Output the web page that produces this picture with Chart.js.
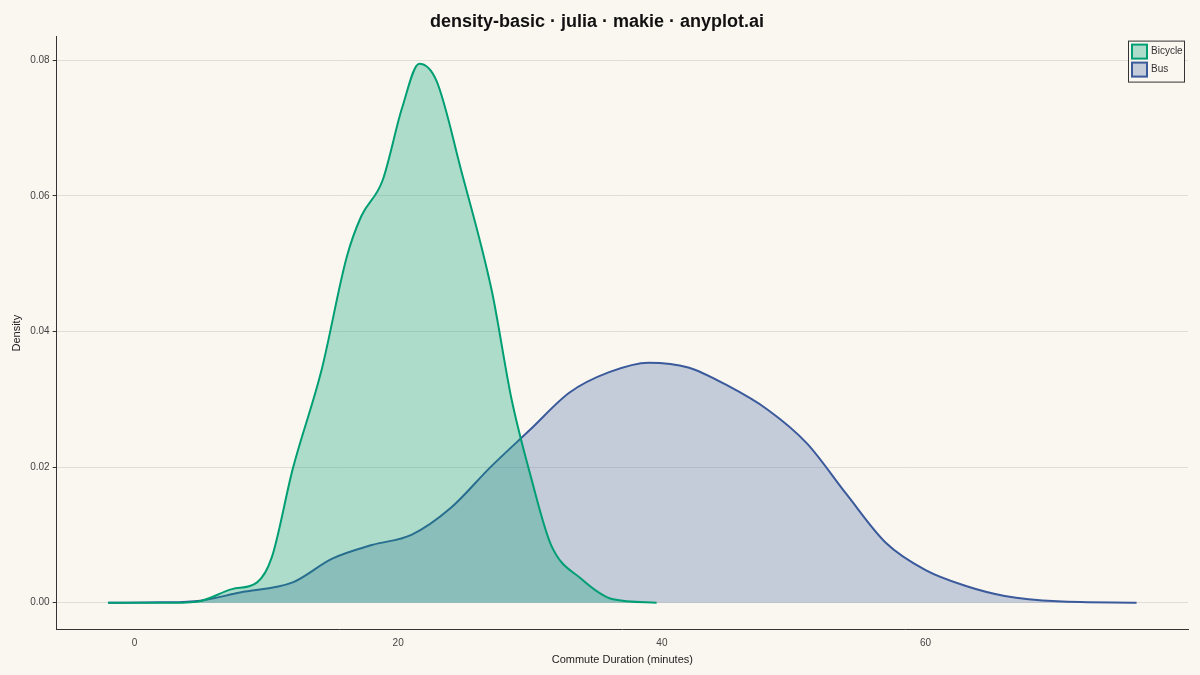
<!DOCTYPE html>
<html><head><meta charset="utf-8">
<script src="https://cdn.jsdelivr.net/npm/chart.js@4"></script>
<style>html,body{margin:0;background:#FAF7F1;}#w{width:1200px;height:675px;}</style>
</head><body><div id="w"><canvas id="c"></canvas></div>
<script>
const bicycleX = [-2,3,5.1,7.4,9.3,10.4,12,14.2,16.1,17.2,18.8,20.3,21.6,22.9,24.8,27.1,28.6,30.1,31.6,33.9,36.3,39.6];
const bicycleY = [0,0,0.0003,0.002,0.003,0.0066,0.0197,0.0344,0.051,0.057,0.0622,0.073,0.0795,0.077,0.0636,0.046,0.030,0.0183,0.0085,0.0035,0.0005,0];
const busX = [-2,2,5,8,12,15,18,21,24,27,30,33,36,39,42,45,48,51,54,57,60,63,66,70,76];
const busY = [0,0.00005,0.0003,0.0015,0.003,0.0065,0.0085,0.010,0.014,0.020,0.0255,0.031,0.034,0.0354,0.0347,0.032,0.0285,0.0235,0.016,0.0088,0.0048,0.0025,0.001,0.0002,0];
const seriesNames = ['Bicycle','Bus'];
const lineColors = ['#009E73','#3A5A9B'];
const fillColors = ['rgba(0,158,115,0.3)','rgba(58,90,155,0.28)'];
const xTicks=[0,20,40,60], yTicks=[0,0.02,0.04,0.06,0.08];
const F='"Liberation Sans", Arial, sans-serif';
const mk=(xs,ys)=>xs.map((x,i)=>({x,y:ys[i]}));
const legendPlugin={id:'lg',afterDraw(ch){const c=ch.ctx,a=ch.chartArea;const w=56,h=41,x=a.right-w-4,y=a.top+4;
c.save();c.fillStyle='#FAF7F1';c.fillRect(x,y,w,h);c.strokeStyle='#333';c.lineWidth=1;c.strokeRect(x+.5,y+.5,w,h);
c.font='10px '+F;c.textBaseline='middle';
seriesNames.forEach((n,i)=>{const yy=y+4+i*18;c.fillStyle=fillColors[i];c.fillRect(x+4,yy,15,14);c.strokeStyle=lineColors[i];c.lineWidth=2;c.strokeRect(x+4,yy,15,14);c.fillStyle='#333';c.fillText(n,x+23,yy+7);});
c.restore();}};
new Chart(document.getElementById('c'),{type:'line',
data:{datasets:[0,1].map(i=>({label:seriesNames[i],data:i?mk(busX,busY):mk(bicycleX,bicycleY),borderColor:lineColors[i],backgroundColor:fillColors[i],borderWidth:2,fill:'origin',cubicInterpolationMode:'monotone',pointRadius:0}))},
options:{responsive:true,maintainAspectRatio:false,animation:false,
layout:{padding:{left:6,right:12,top:0,bottom:8}},
plugins:{legend:{display:false},tooltip:{enabled:false},
title:{display:true,text:'density-basic · julia · makie · anyplot.ai',color:'#111',font:{size:18,weight:'bold',family:F},padding:{top:11,bottom:4}}},
scales:{
x:{type:'linear',min:-5.9,max:79.9,afterBuildTicks:s=>{s.ticks=xTicks.map(v=>({value:v}))},
grid:{display:false,tickLength:4},border:{color:'#333'},
ticks:{color:'#444',font:{size:10,family:F}},
title:{display:true,text:'Commute Duration (minutes)',color:'#222',font:{size:11,family:F},padding:{top:2,bottom:0}}},
y:{min:-0.004,max:0.0835,afterBuildTicks:s=>{s.ticks=yTicks.map(v=>({value:v}))},
grid:{color:'rgba(0,0,0,0.1)',tickLength:4,tickColor:'#333'},border:{color:'#333'},
ticks:{color:'#444',callback:v=>v.toFixed(2),font:{size:10,family:F}},
title:{display:true,text:'Density',color:'#222',font:{size:11,family:F}}}}},
plugins:[legendPlugin]});
</script></body></html>
